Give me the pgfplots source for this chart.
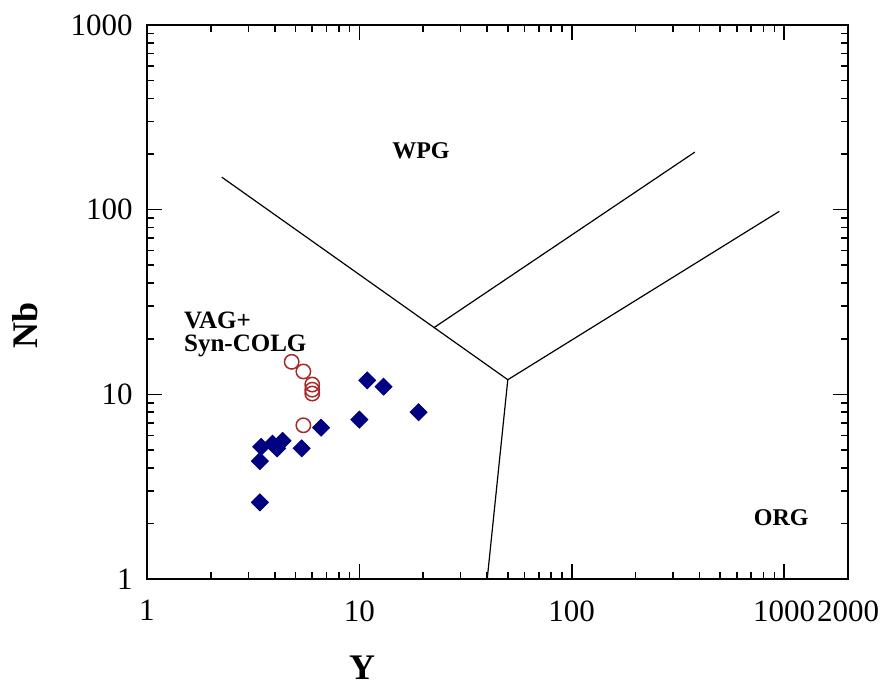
\documentclass[border=0pt]{standalone}
\usepackage{pgfplots}
\pgfplotsset{compat=1.18}
\usepackage{fontspec}
\setmainfont{Liberation Serif}
\definecolor{ptBlue}{HTML}{000080}
\definecolor{ptRed}{HTML}{A52A2A}

\begin{document}
\begin{tikzpicture}
\begin{axis}[
    xmode=log, ymode=log,
    scale only axis,
    width=350.5pt, height=277pt,
    xmin=1, xmax=2000, ymin=1, ymax=1000,
    xtick={1,10,100,1000,2000},
    xticklabels={1,10,100,1000,2000},
    ytick={1,10,100,1000},
    yticklabels={1,10,100,1000},
    minor xtick={2,3,4,5,6,7,8,9,20,30,40,50,60,70,80,90,200,300,400,500,600,700,800,900},
    minor ytick={2,3,4,5,6,7,8,9,20,30,40,50,60,70,80,90,200,300,400,500,600,700,800,900},
    tick align=inside,
    major tick length=7.5pt,
    minor tick length=3.5pt,
    tick style={black, line width=0.8pt},
    axis line style={line width=1pt},
    tick label style={font=\fontsize{15.5}{18}\selectfont},
    xticklabel style={inner sep=1pt, yshift=-9.5pt},
    yticklabel style={inner sep=2pt, xshift=-5pt},
    xlabel={Y},
    ylabel={Nb},
    xlabel style={font=\bfseries\fontsize{18}{20}\selectfont, at={(rel axis cs:0.307,0)}, anchor=center, yshift=-44.5pt},
    ylabel style={font=\bfseries\fontsize{18}{20}\selectfont, at={(rel axis cs:0,0.458)}, anchor=center, yshift=61pt},
    clip=false,
]
  % field boundaries
  \addplot[black, line width=0.6pt] coordinates {(2.25,150) (50,12)};
  \addplot[black, line width=0.6pt] coordinates {(22.5,23) (380,205)};
  \addplot[black, line width=0.6pt] coordinates {(50,12) (950,98)};
  \addplot[black, line width=0.6pt] coordinates {(50,12) (40,1)};

  % samples
  \addplot[only marks, mark=square*, mark size=3pt, color=ptBlue,
      mark options={rotate=45, fill=ptBlue, draw=ptBlue}] coordinates {
    (10.9,11.9) (13,11) (19,8) (10,7.3) (6.6,6.6) (5.35,5.1)
    (4.35,5.6) (4.1,5.1) (3.9,5.4) (3.45,5.2) (3.4,4.35) (3.4,2.6)
  };
  \addplot[only marks, mark=o, mark size=3.6pt, color=ptRed,
      mark options={line width=0.75pt}] coordinates {
    (4.8,15) (5.45,13.3) (6,11.3) (6,10.6) (6,10.1) (5.45,6.8)
  };

  \node[font=\bfseries\fontsize{12}{14}\selectfont] at (axis cs:19.5,208) {WPG};
  \node[font=\bfseries\fontsize{12}{14}\selectfont] at (axis cs:970,2.14) {ORG};
  \node[font=\bfseries\fontsize{12.5}{11.5}\selectfont, align=left, anchor=west, inner sep=0pt]
      at (axis cs:1.49,21.2) {VAG+\\Syn-COLG};

  \coordinate (sw) at (rel axis cs:0,0);
  \coordinate (ne) at (rel axis cs:1,1);
\end{axis}
\pgfresetboundingbox
\path[use as bounding box] ([shift={(-73.5pt,-54.5pt)}]sw) rectangle ([shift={(16pt,12.5pt)}]ne);
\end{tikzpicture}
\end{document}
